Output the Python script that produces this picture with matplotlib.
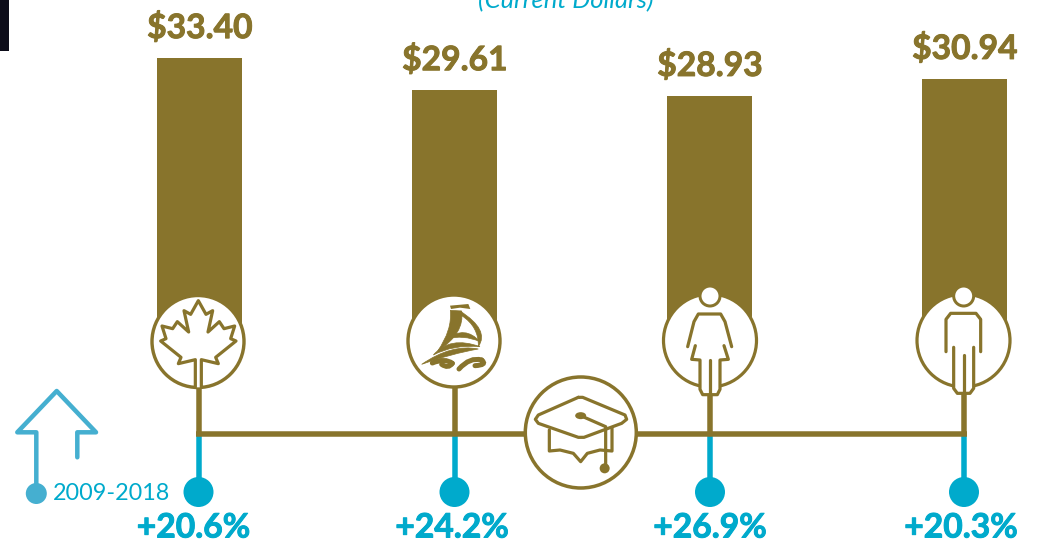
import matplotlib
matplotlib.use("Agg")
import matplotlib.pyplot as plt
import matplotlib.patheffects as pe
from matplotlib.patches import Circle, Ellipse, PathPatch
from matplotlib.path import Path

categories = ["Canada", "Ontario", "Women", "Men"]
hourly_wage = [33.40, 29.61, 28.93, 30.94]
wage_labels = ["$33.40", "$29.61", "$28.93", "$30.94"]
change_labels = ["+20.6%", "+24.2%", "+26.9%", "+20.3%"]
period_label = "2009-2018"
subtitle = "(Current Dollars)"

W, H = 1038, 541
GOLD = "#88742C"
BLUE = "#00AACC"
ARROW = "#45AFD0"
PX = 0.72
plt.rcParams["font.family"] = ["Lato", "DejaVu Sans"]

fig = plt.figure(figsize=(W / 100, H / 100), dpi=100)

ax = fig.add_axes([0, 0, 1, 1], zorder=1)
ax.set_xlim(-199.5 / 255, (W - 199.5) / 255)
ax.set_ylim(-(H - 341) / 8.47, 341 / 8.47)
ax.axis("off")
xs = list(range(len(categories)))
ax.bar(xs, hourly_wage, width=85 / 255, color=GOLD, linewidth=0)
for x, v, t in zip(xs, hourly_wage, wage_labels):
    txt = ax.annotate(t, (x, v), xytext=(0.3, 30.5 * PX), textcoords="offset points", ha="center",
                      va="center", color=GOLD, fontsize=24.2, fontweight="bold")
    txt.set_path_effects([pe.withStroke(linewidth=0.7, foreground=GOLD)])

ov = fig.add_axes([0, 0, 1, 1], zorder=2)
ov.set_xlim(0, W)
ov.set_ylim(H, 0)
ov.axis("off")
ov.patch.set_alpha(0)


def line(pts, color=GOLD, lw=3, z=3, cap="round", join="round"):
    xx, yy = zip(*pts)
    ov.plot(xx, yy, color=color, lw=lw * PX, zorder=z, solid_capstyle=cap, solid_joinstyle=join)


def disc(cx, cy, r, face="white", edge=GOLD, lw=3, z=3):
    ov.add_patch(Circle((cx, cy), r, fc=face, ec=edge, lw=lw * PX, zorder=z))


ov.fill([0, 9, 9, 0], [0, 0, 51, 51], color="#0D0D1A", lw=0)
ov.text(565.5, 1, subtitle, color=BLUE, style="italic", fontsize=18.4, ha="center", va="center")

stem_x = [198.5, 454.5, 710, 964]
label_x = [193.5, 452, 710, 961]
for sx, lx, t in zip(stem_x, label_x, change_labels):
    line([(sx, 434), (sx, 492)], BLUE, 5.5, 2, "butt")
    disc(sx, 492, 15, BLUE, "none", 0, 2)
    line([(sx, 380), (sx, 434)], GOLD, 5.5, 2, "butt")
    txt = ov.text(lx, 527.5, t, color=BLUE, fontsize=24.2, fontweight="bold", ha="center", va="center")
    txt.set_path_effects([pe.withStroke(linewidth=0.7, foreground=BLUE)])
line([(196, 434.3), (966.5, 434.3)], GOLD, 5.5, 2, "butt")

disc(198, 341.5, 46, lw=3.4)
disc(454, 341, 46, lw=3.4)
disc(710, 340.5, 46.5, lw=3.2)
disc(963.5, 340.5, 46.5, lw=3.2)

# Maple leaf
z1 = lambda p: (130 + p[0] / 3, 280 + p[1] / 3)
leaf = [(196, 322), (196, 239), (145, 251), (153, 232), (92, 183), (108, 176), (96, 138), (128, 146),
        (142, 125), (176, 156), (162, 92), (182, 103), (205, 62), (228, 103), (248, 92), (234, 156),
        (268, 125), (282, 146), (314, 138), (302, 176), (318, 183), (257, 232), (265, 251), (214, 239),
        (214, 322)]
ov.fill(*zip(*[z1(p) for p in leaf]), color="white", zorder=3.5, lw=0)
line([z1(p) for p in leaf], GOLD, 3.2, 4)


# Ship
def s(p):
    return (415 + p[0] / 3, 295 + p[1] / 3)


def crescent(a, b, c, d, e=None, z=4):
    e = e or a
    verts = [s(a), s(b), s(c), s(c), s(d), s(e), s(a)]
    codes = [Path.MOVETO, Path.CURVE3, Path.CURVE3, Path.LINETO, Path.CURVE3, Path.CURVE3, Path.CLOSEPOLY]
    ov.add_patch(PathPatch(Path(verts, codes), fc=GOLD, ec=GOLD, lw=0.5, zorder=z))


def stroke(a, b, c, w, z=4):
    ov.add_patch(PathPatch(Path([s(a), s(b), s(c)], [Path.MOVETO, Path.CURVE3, Path.CURVE3]), fc="none",
                           ec=GOLD, lw=w * PX, capstyle="round", zorder=z))


ov.fill(*zip(*[s(p) for p in [(105, 32), (160, 27), (166, 42), (135, 38), (108, 42)]]), color=GOLD, lw=0, zorder=4)
crescent((140, 48), (150, 115), (68, 168), (112, 105), (106, 46))
crescent((135, 48), (225, 105), (190, 155), (192, 95), (140, 62))
crescent((95, 132), (150, 90), (195, 140), (145, 118))
crescent((55, 180), (105, 122), (195, 155), (115, 148))
crescent((20, 208), (110, 146), (190, 162), (110, 176))
stroke((52, 204), (90, 188), (112, 205), 5)
stroke((112, 205), (100, 222), (80, 208), 5)
stroke((132, 222), (165, 185), (200, 195), 5)
stroke((200, 195), (218, 210), (180, 212), 5)

# Figures
z2 = lambda p: (510 + p[0] / 3, 280 + p[1] / 3)
disc(*z2((600, 48)), 10, lw=3, z=5)
woman_fill = [(568, 102), (632, 102), (665, 200), (640, 200), (655, 240), (632, 240), (632, 345), (568, 345),
              (568, 240), (545, 240), (558, 200), (533, 200)]
ov.fill(*zip(*[z2(p) for p in woman_fill]), color="white", zorder=3.5, lw=0)
for seg in [
    [(533, 200), (552, 125), (565, 102), (632, 102), (645, 125), (665, 200)],
    [(556, 197), (545, 238), (570, 240), (570, 328), (578, 344), (622, 344), (630, 328), (630, 240), (655, 238),
     (642, 197)],
    [(600, 240), (600, 344)],
]:
    line([z2(p) for p in seg], GOLD, 3.2, 4)

disc(*z2((1361, 48)), 10, lw=3, z=5)
man_fill = [(1320, 100), (1400, 100), (1412, 120), (1412, 215), (1392, 215), (1392, 325), (1380, 340), (1340, 340),
            (1330, 325), (1330, 215), (1308, 215), (1308, 120)]
ov.fill(*zip(*[z2(p) for p in man_fill]), color="white", zorder=3.5, lw=0)
for seg in [
    [(1308, 215), (1308, 118), (1322, 100), (1398, 100), (1412, 118), (1412, 215)],
    [(1331, 202), (1331, 325), (1342, 340), (1380, 340), (1391, 325), (1391, 202)],
    [(1361, 226), (1361, 340)],
]:
    line([z2(p) for p in seg], GOLD, 3.2, 4)

# Graduation cap
disc(580.8, 432.5, 55.5, lw=3.5)
for seg in [
    [(205, 352), (218, 352), (345, 405), (350, 418), (335, 430), (222, 472), (205, 472), (85, 430), (76, 418),
     (85, 405), (205, 352)],
    [(118, 450), (118, 513), (150, 510), (190, 520), (212, 545), (232, 520), (270, 510), (306, 513), (306, 443)],
    [(212, 407), (287, 440), (287, 560)],
]:
    line([z2(p) for p in seg], GOLD, 3.2, 4)
ov.add_patch(Ellipse(z2((212, 407)), 11, 7, fc=GOLD, ec="none", zorder=4))
disc(*z2((284, 565)), 5, GOLD, "none", 0, 4)

# Period key
line([(36.3, 493), (36.3, 432.3), (17.3, 432.3), (56.7, 391), (96, 432.3), (77.3, 432.3), (77.3, 457.3)], ARROW, 4.5)
disc(36.3, 493.5, 10.5, ARROW, "none", 0)
ov.text(111.5, 494, period_label, color=BLUE, fontsize=16.8, ha="center", va="center")

fig.savefig("out.png", dpi=100)
